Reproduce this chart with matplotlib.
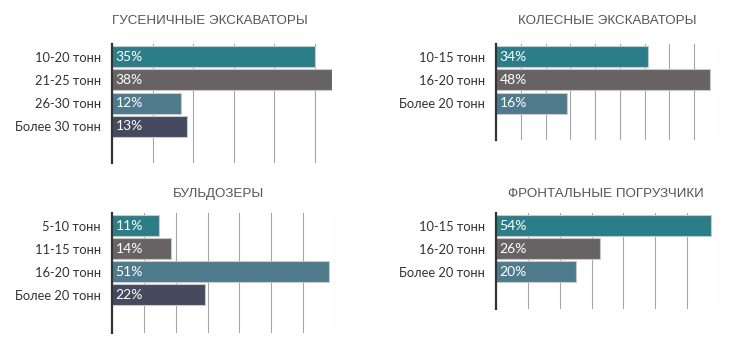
import matplotlib
matplotlib.use("Agg")
import matplotlib.pyplot as plt
import numpy as np

plt.rcParams['font.family'] = ['Lato', 'DejaVu Sans']

# ---- data ----
titles = ["ГУСЕНИЧНЫЕ ЭКСКАВАТОРЫ", "КОЛЕСНЫЕ ЭКСКАВАТОРЫ",
          "БУЛЬДОЗЕРЫ", "ФРОНТАЛЬНЫЕ ПОГРУЗЧИКИ"]
cats_crawler = ["10-20 тонн", "21-25 тонн", "26-30 тонн", "Более 30 тонн"]
vals_crawler = [35, 38, 12, 13]
cats_wheel = ["10-15 тонн", "16-20 тонн", "Более 20 тонн"]
vals_wheel = [34, 48, 16]
cats_dozer = ["5-10 тонн", "11-15 тонн", "16-20 тонн", "Более 20 тонн"]
vals_dozer = [11, 14, 51, 22]
cats_loader = ["10-15 тонн", "16-20 тонн", "Более 20 тонн"]
vals_loader = [54, 26, 20]

colors = ['#2b7e87', '#676364', '#4f7a8b', '#454a5e']

W, H = 741, 352
fig = plt.figure(figsize=(W / 100, H / 100), dpi=100)
fig.patch.set_facecolor('white')

panels = [
    (cats_crawler, vals_crawler, titles[0], 112, 220, 44, 163, 38, 7, 56.7, 23.2, (210, 20.7)),
    (cats_wheel, vals_wheel, titles[1], 496, 223, 44, 140, 50, 50 / 9, 56.7, 23.2, (607, 20.7)),
    (cats_dozer, vals_dozer, titles[2], 112, 223, 212.7, 332.7, 52.5, 7.5, 225.7, 23.0, (219, 194.3)),
    (cats_loader, vals_loader, titles[3], 496, 223, 212.7, 309.3, 56, 8, 225.7, 23.0, (606, 194.3)),
]

for cats, vals, title, x0, wpx, top, bot, xmax, step, c0, pitch, tpos in panels:
    ax = fig.add_axes([x0 / W, 1 - bot / H, wpx / W, (bot - top) / H])
    n = len(cats)
    y = np.arange(n)
    ax.set_xlim(0, xmax)
    ax.set_ylim((bot - c0) / pitch, -(c0 - top) / pitch)
    grid = np.arange(step, xmax + 1e-6, step)
    for g in grid:
        ax.axvline(g, color='#a5a5a5', lw=0.8, zorder=0)
    ax.barh(y, vals, height=21 / pitch, color=colors[:n],
            edgecolor='#c9c9c9', linewidth=0.8, zorder=2)
    for yi, v in zip(y, vals):
        ax.annotate(f"{v}%", xy=(0, yi), xytext=(2.5, 0), textcoords='offset points',
                    ha='left', va='center', color='white', fontsize=10, zorder=3)
    ax.set_yticks(y)
    ax.set_yticklabels(cats, fontsize=9.3, color='#333333')
    ax.tick_params(axis='y', length=0, pad=8)
    ax.set_xticks([])
    for s in ['top', 'right', 'bottom']:
        ax.spines[s].set_visible(False)
    ax.spines['left'].set_color('#333333')
    ax.spines['left'].set_linewidth(1.6)
    ax.set_facecolor('none')
    fig.text(tpos[0] / W, 1 - tpos[1] / H, title, ha='center', va='center',
             fontsize=9.6, color='#555555', family=['Liberation Sans', 'DejaVu Sans'])

fig.savefig('out.png', dpi=100, facecolor='white')
